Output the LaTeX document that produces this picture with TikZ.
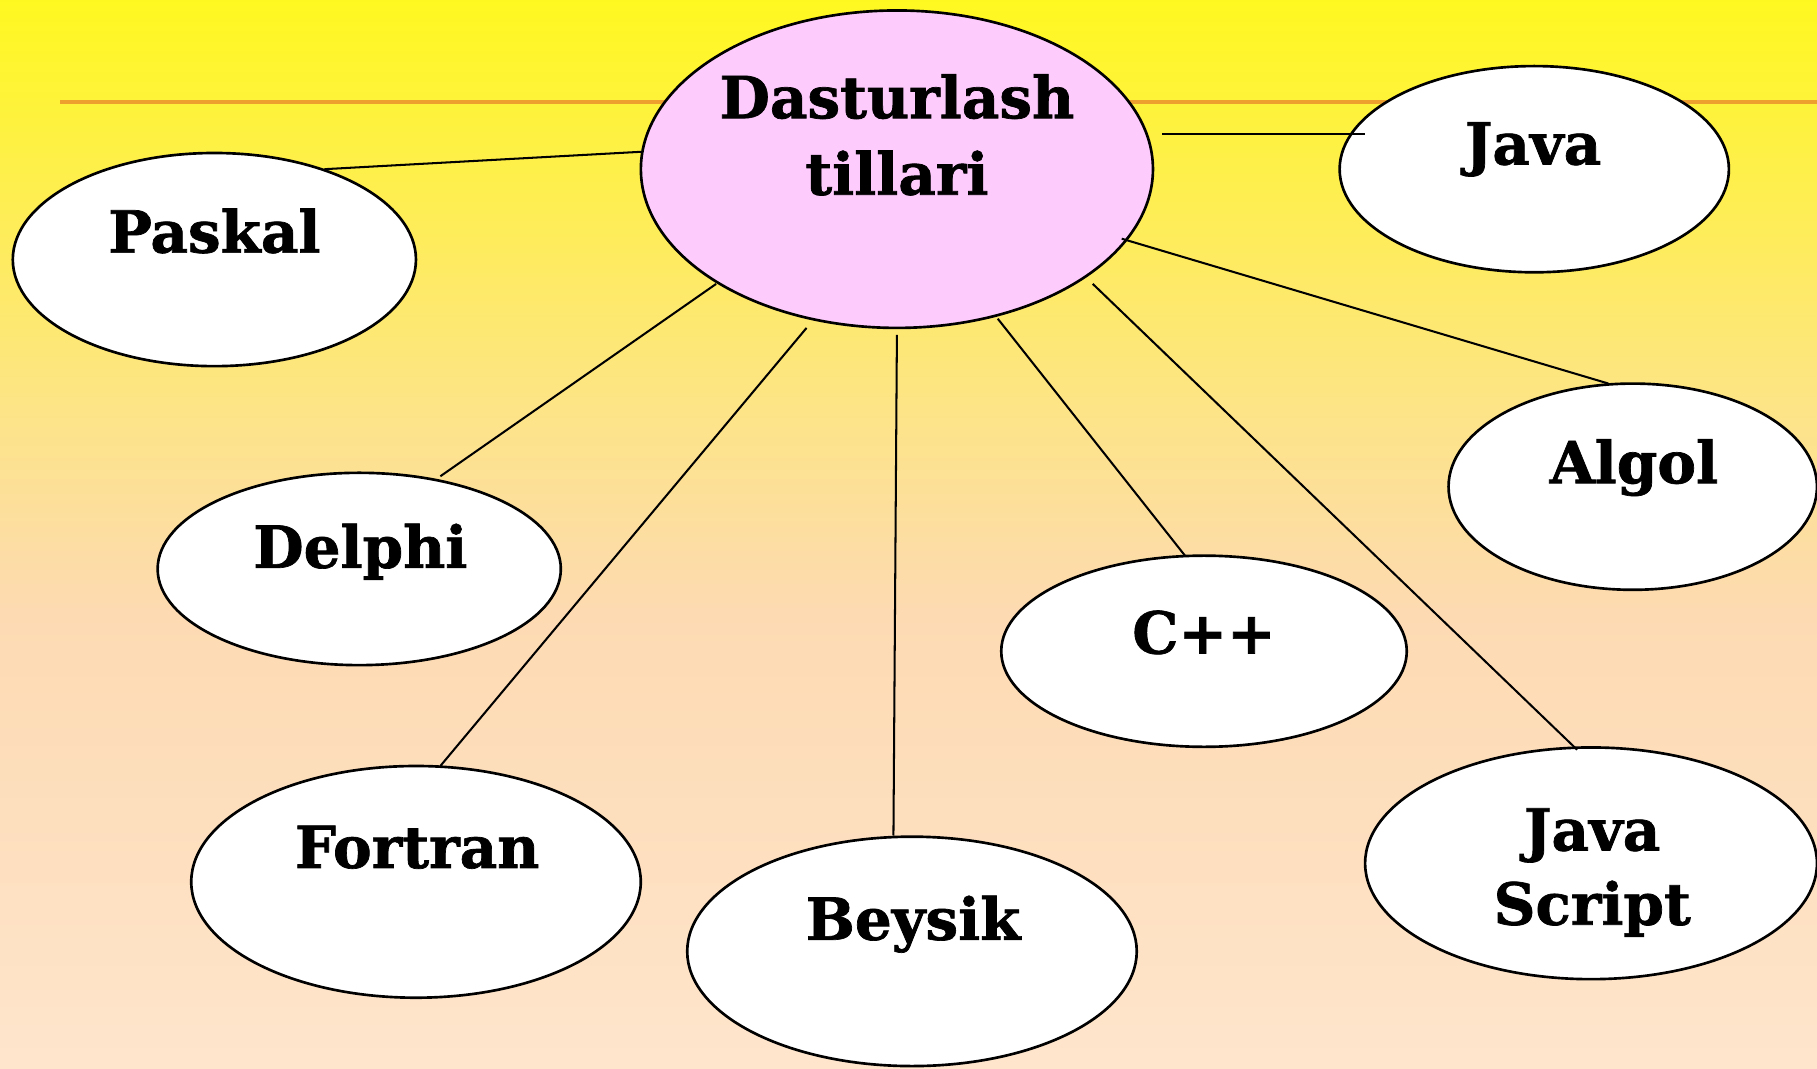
\documentclass[tikz,border=0pt]{standalone}
\usepackage{fontspec}
\setmainfont{DejaVu Serif}[BoldFeatures={FakeBold=1.2}]
\usetikzlibrary{shapes.geometric,calc}
\definecolor{bgtop}{HTML}{FFF820}
\definecolor{bgmid}{HTML}{FDE486}
\definecolor{bgpeach}{HTML}{FDDAB2}
\definecolor{bgbot}{HTML}{FEE5CC}
\definecolor{pinkfill}{HTML}{FDCBFC}
\definecolor{orangeline}{HTML}{EEA02E}
\tikzset{
  bubble/.style={ellipse, draw=black, line width=1.3pt, fill=white, inner sep=0pt, outer sep=0pt},
  lbl/.style={font=\bfseries\fontsize{28.5}{36}\selectfont, anchor=base, inner sep=0pt},
  conn/.style={draw=black, line width=1pt},
}
\begin{document}
\begin{tikzpicture}[x=0.02cm,y=-0.02cm]
\useasboundingbox (0,0) rectangle (1568,922);
% background
\shade[top color=bgtop, bottom color=bgmid] (0,0) rectangle (1568,350.5);
\shade[top color=bgmid, bottom color=bgpeach] (0,350) rectangle (1568,530.5);
\shade[top color=bgpeach, bottom color=bgbot] (0,530) rectangle (1568,922);
\draw[orangeline, line width=1.6pt] (52,88) -- (1568,88);
% ellipses
\node[bubble, fill=pinkfill, minimum width=8.84cm, minimum height=5.48cm] (dl) at (774,146) {};
\node[bubble, minimum width=6.72cm, minimum height=3.56cm] (java) at (1324,146) {};
\node[bubble, minimum width=6.96cm, minimum height=3.68cm] (paskal) at (185,224) {};
\node[bubble, minimum width=6.36cm, minimum height=3.56cm] (algol) at (1409,420) {};
\node[bubble, minimum width=6.96cm, minimum height=3.32cm] (delphi) at (310,491) {};
\node[bubble, minimum width=7.0cm, minimum height=3.3cm] (cpp) at (1039,562) {};
\node[bubble, minimum width=7.76cm, minimum height=4.0cm] (fortran) at (359,761) {};
\node[bubble, minimum width=7.76cm, minimum height=3.96cm] (beysik) at (787,821) {};
\node[bubble, minimum width=7.8cm, minimum height=4.0cm] (js) at (1373,745) {};
% connectors
\draw[conn] ($(dl)+(-221,-15)$) -- ($(paskal)+(95,-78)$);
\draw[conn] ($(dl)+(229,-30)$) -- ($(java)+(-146,-30)$);
\draw[conn] ($(dl)+(-156,99)$) -- ($(delphi)+(70,-80)$);
\draw[conn] ($(dl)+(-78,137)$) -- ($(fortran)+(21,-100)$);
\draw[conn] ($(dl)+(0,143)$) -- ($(beysik)+(-16,-100)$);
\draw[conn] ($(dl)+(87,129)$) -- ($(cpp)+(-16,-82)$);
\draw[conn] ($(dl)+(169,99)$) -- ($(js)+(-12,-98)$);
\draw[conn] ($(dl)+(194,60)$) -- ($(algol)+(-21,-89)$);
% labels
\node[lbl] (dlt1) at (774,102) {Dasturlash};
\node[lbl] (dlt2) at (774,168) {tillari};
\node[lbl] (javat) at (1323,142) {Java};
\node[lbl] (paskalt) at (185,218) {Paskal};
\node[lbl] (algolt) at (1410,417) {Algol};
\node[lbl] (delphit) at (311,490) {Delphi};
\node[lbl] (cppt) at (1039,564) {C++};
\node[lbl] (fortrant) at (360,749) {Fortran};
\node[lbl] (beysikt) at (788,811) {Beysik};
\node[lbl] (jst1) at (1374,734) {Java};
\node[lbl] (jst2) at (1374,798) {Script};
\end{tikzpicture}
\end{document}
